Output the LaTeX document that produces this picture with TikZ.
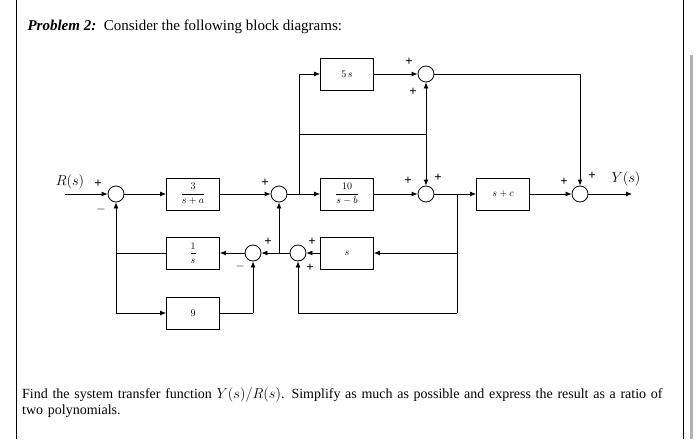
\documentclass[tikz,border=0pt]{standalone}
\usepackage{fontspec}
\setmainfont{Liberation Serif}
\usetikzlibrary{arrows.meta}
\begin{document}
\begin{tikzpicture}[x=1pt,y=-1pt,
  blk/.style={draw,line width=0.8pt,minimum width=53pt,minimum height=32pt,inner sep=0pt,font=\fontsize{10}{11}\selectfont},
  sm/.style={draw,line width=0.8pt,circle,minimum size=16pt,inner sep=0pt},
  ln/.style={line width=0.8pt},
  ar/.style={line width=0.8pt,-{Latex[length=6pt,width=5pt]}},
  sg/.style={font=\fontsize{13}{13}\selectfont\bfseries,inner sep=1pt}]
\useasboundingbox (0,0) rectangle (700,439);
\draw[line width=0.8pt] (16,0) -- (16,439);
\draw[line width=0.8pt] (683,0) -- (683,439);
\draw[line width=3pt,gray!60] (691,55) -- (691,439);
\node[anchor=west,font=\fontsize{15}{17}\selectfont] (title) at (24,27) {\textbf{\textit{Problem 2:}}\ \ Consider the following block diagrams:};
\node[anchor=north west,text width=660pt,align=left,font=\fontsize{14}{16}\selectfont,inner sep=0pt] (q) at (22,387) {Find the system transfer function $Y(s)/R(s)$. Simplify as much as possible and express the result as a ratio of two polynomials.};
% nodes
\coordinate (in) at (65,194);
\node[sm] (s1) at (116,194) {};
\node[blk] (g1) at (193,194) {$\displaystyle\frac{3}{s+a}$};
\node[sm] (s2) at (279,194) {};
\coordinate (b1) at (299,194);
\coordinate (b1t) at (299,74);
\coordinate (b1m) at (299,134);
\node[blk] (g5) at (347,74) {$5\,s$};
\node[blk] (g10) at (347,194) {$\displaystyle\frac{10}{s-b}$};
\node[sm] (s3) at (426,74) {};
\coordinate (m) at (426,134);
\node[sm] (s4) at (426,194) {};
\coordinate (b2) at (457,194);
\node[blk] (gc) at (503,194) {$s+c$};
\node[sm] (s5) at (580,194) {};
\coordinate (out) at (632,194);
\coordinate (tr) at (580,74);
\node[blk] (gs) at (347,253) {$s$};
\coordinate (b2s) at (457,253);
\coordinate (b2b) at (457,313);
\node[sm] (s6) at (298,253) {};
\coordinate (j) at (279,253);
\node[sm] (s7) at (253,253) {};
\node[blk] (gi) at (193,253) {$\displaystyle\frac{1}{s}$};
\coordinate (l1) at (116,253);
\coordinate (l2) at (116,313);
\node[blk] (g9) at (193,313) {$9$};
\coordinate (n9) at (253,313);
\coordinate (bb) at (298,313);
% connectors
\draw[ar] (in) -- (s1);
\draw[ar] (s1) -- (g1);
\draw[ar] (g1) -- (s2);
\draw[ar] (s2) -- (g10);
\draw[ln] (b1) -- (b1t);
\draw[ar] (b1t) -- (g5);
\draw[ln] (b1m) -- (m);
\draw[ar] (g5) -- (s3);
\draw[ar] (m) -- (s3);
\draw[ar] (m) -- (s4);
\draw[ar] (g10) -- (s4);
\draw[ar] (s4) -- (gc);
\draw[ar] (gc) -- (s5);
\draw[ar] (s5) -- (out);
\draw[ln] (s3) -- (tr);
\draw[ar] (tr) -- (s5);
\draw[ln] (b2) -- (b2b);
\draw[ar] (b2s) -- (gs);
\draw[ar] (gs) -- (s6);
\draw[ln] (b2b) -- (bb);
\draw[ar] (bb) -- (s6);
\draw[ar] (s6) -- (s7);
\draw[ar] (j) -- (s2);
\draw[ar] (s7) -- (gi);
\draw[ln] (gi) -- (l1);
\draw[ar] (l2) -- (s1);
\draw[ln] (l1) -- (l2);
\draw[ar] (l2) -- (g9);
\draw[ln] (g9) -- (n9);
\draw[ar] (n9) -- (s7);
% labels
\node[font=\fontsize{14}{14}\selectfont] (lr) at (70,182) {$R(s)$};
\node[font=\fontsize{14}{14}\selectfont] (ly) at (626,179) {$Y(s)$};
\node[sg] at (98,184) {+};
\node[sg] at (101,209) {$-$};
\node[sg] at (265,183) {+};
\node[sg] at (409,62) {+};
\node[sg] at (413,92) {+};
\node[sg] at (408,181) {+};
\node[sg] at (438,178) {+};
\node[sg] at (564,182) {+};
\node[sg] at (592,176) {+};
\node[sg] at (268,242) {+};
\node[sg] at (240,266) {$-$};
\node[sg] at (312,242) {+};
\node[sg] at (310,268) {+};
\end{tikzpicture}
\end{document}
